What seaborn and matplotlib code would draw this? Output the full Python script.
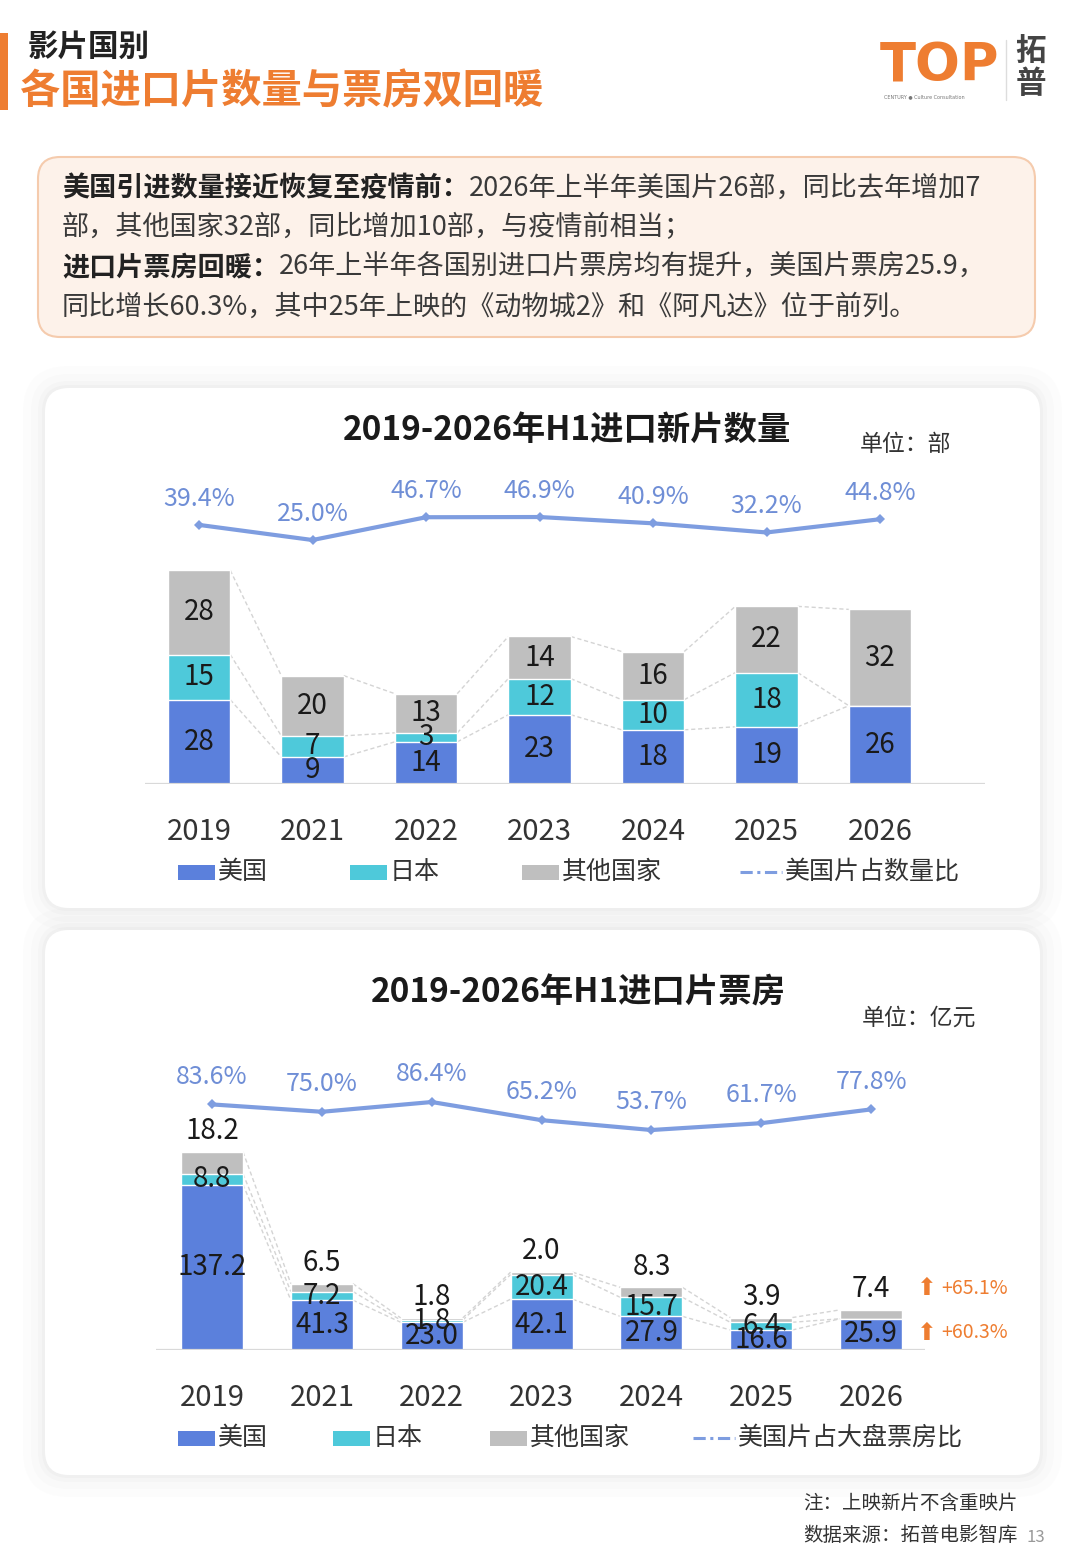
import numpy as np
import pandas as pd
import matplotlib
matplotlib.use("Agg")
import matplotlib.pyplot as plt
import seaborn as sns
from matplotlib.patches import FancyBboxPatch, Rectangle
from matplotlib.lines import Line2D

# ---- data ----
years = ["2019", "2021", "2022", "2023", "2024", "2025", "2026"]

# 进口新片数量（部）
cnt_us = [28, 9, 14, 23, 18, 19, 26]
cnt_jp = [15, 7, 3, 12, 10, 18, 0]
cnt_other = [28, 20, 13, 14, 16, 22, 32]
cnt_us_share = [39.4, 25.0, 46.7, 46.9, 40.9, 32.2, 44.8]

# 进口片票房（亿元）
box_us = [137.2, 41.3, 23.0, 42.1, 27.9, 16.6, 25.9]
box_jp = [8.8, 7.2, 1.8, 20.4, 15.7, 6.4, 0]
box_other = [18.2, 6.5, 1.8, 2.0, 8.3, 3.9, 7.4]
box_us_share = [83.6, 75.0, 86.4, 65.2, 53.7, 61.7, 77.8]

growth = ["+65.1%", "+60.3%"]

C_US = "#5b80dc"
C_JP = "#4ec9da"
C_OTHER = "#bfbfbf"
C_LINE = "#7e9de0"
C_PCT = "#6f8ed6"
C_ORANGE = "#ee7d31"

sns.set_theme(style="white")
plt.rcParams["font.family"] = ["Noto Sans CJK SC", "DejaVu Sans"]
plt.rcParams["axes.unicode_minus"] = False

W, H = 1080, 1568
fig = plt.figure(figsize=(W / 100, H / 100), dpi=100)
fig.patch.set_facecolor("white")


def rect(x0, y0, x1, y1):
    # pixel box (top-left origin) -> figure fraction
    return [x0 / W, 1 - y1 / H, (x1 - x0) / W, (y1 - y0) / H]


bg = fig.add_axes([0, 0, 1, 1], zorder=0)
bg.set_xlim(0, W)
bg.set_ylim(H, 0)
bg.axis("off")

# ---- header ----
bg.add_patch(Rectangle((0, 33), 8, 77, fc=C_ORANGE, ec="none"))
bg.text(28, 47, "影片国别", fontsize=22, fontweight="bold", color="#222", va="center")
bg.text(20, 92, "各国进口片数量与票房双回暖", fontsize=29, fontweight="bold",
        color=C_ORANGE, va="center")

# logo
bg.text(880, 66, "TOP", fontsize=38, fontweight="heavy", color=C_ORANGE,
        va="center", family=["DejaVu Sans"])
bg.text(884, 97, "CENTURY ● Culture Consultation", fontsize=3.5, color="#777", va="center",
        family=["DejaVu Sans"])
bg.plot([1006, 1006], [40, 100], color="#dddddd", lw=1)
bg.text(1031, 52, "拓", fontsize=22, fontweight="bold", color="#444", ha="center", va="center")
bg.text(1031, 84, "普", fontsize=22, fontweight="bold", color="#444", ha="center", va="center")

# ---- summary box ----
bg.add_patch(FancyBboxPatch((38, 157), 997, 180, boxstyle="round,pad=0,rounding_size=22",
                            fc="#fdf2ea", ec="#f5cbad", lw=1.5))
renderer = fig.canvas.get_renderer()
lines = [
    ("美国引进数量接近恢复至疫情前：", "2026年上半年美国片26部，同比去年增加7"),
    ("", "部，其他国家32部，同比增加10部，与疫情前相当；"),
    ("进口片票房回暖：", "26年上半年各国别进口片票房均有提升，美国片票房25.9，"),
    ("", "同比增长60.3%，其中25年上映的《动物城2》和《阿凡达》位于前列。"),
]
for k, (b, r) in enumerate(lines):
    y = 188 + k * 39.7
    x = 62
    if b:
        t = bg.text(x, y, b, fontsize=19.5, fontweight="bold", color="#222", va="center")
        x = t.get_window_extent(renderer).x1
    bg.text(x, y, r, fontsize=19.5, color="#3a3a3a", va="center")


# ---- cards ----
def card(x0, y0, x1, y1):
    for pad, a in [(22, 0.035), (14, 0.045), (7, 0.06), (3, 0.08)]:
        bg.add_patch(FancyBboxPatch((x0, y0), x1 - x0, y1 - y0,
                                    boxstyle=f"round,pad={pad},rounding_size={24 + pad}",
                                    fc="#b8b8b8", ec="none", alpha=a))
    bg.add_patch(FancyBboxPatch((x0, y0), x1 - x0, y1 - y0,
                                boxstyle="round,pad=0,rounding_size=24", fc="white", ec="none"))


card(45, 388, 1040, 908)
card(45, 930, 1040, 1475)


def stacked(ax, us, jp, other, width):
    df = pd.DataFrame({"year": years, "us": us, "jp": jp, "other": other})
    df["t1"] = df["us"]
    df["t2"] = df["us"] + df["jp"]
    df["t3"] = df["t2"] + df["other"]
    for col, c in [("t3", C_OTHER), ("t2", C_JP), ("t1", C_US)]:
        sns.barplot(data=df, x="year", y=col, order=years, color=c, width=width,
                    saturation=1, errorbar=None, ax=ax, zorder=2)
    # series lines between bars
    for col in ["t1", "t2", "t3"]:
        v = df[col].values
        for i in range(len(years) - 1):
            ax.plot([i + width / 2, i + 1 - width / 2], [v[i], v[i + 1]],
                    color="#d4d4d4", lw=1, ls=(0, (3, 2)), zorder=1)
    ax.axhline(0, color="#d9d9d9", lw=1.6, zorder=3)
    ax.set_xlabel("")
    ax.set_ylabel("")
    ax.set_yticks([])
    sns.despine(ax=ax, left=True, bottom=True)
    ax.set_facecolor("none")
    ax.tick_params(axis="x", length=0, pad=24, labelsize=21, labelcolor="#333")
    return df


def share_line(ax, share, xlim, ylim, off):
    sns.lineplot(x=np.arange(len(years)), y=share, ax=ax, color=C_LINE, lw=3,
                 marker="D", markersize=5, markeredgewidth=0)
    for i, v in enumerate(share):
        ax.annotate(f"{v:.1f}%", (i, v), xytext=(0, off), textcoords="offset points",
                    ha="center", va="center", fontsize=18, color=C_PCT)
    ax.set_xlim(*xlim)
    ax.set_ylim(*ylim)
    ax.axis("off")


def legend(y, xs, labels, line_label, xl):
    for x, c, lab in zip(xs, [C_US, C_JP, C_OTHER], labels):
        bg.add_patch(Rectangle((x, y - 7), 37, 15, fc=c, ec="none"))
        bg.text(x + 40, y, lab, fontsize=18, color="#333", va="center")
    bg.add_line(Line2D([xl, xl + 42], [y, y], color=C_LINE, lw=2.2, ls=(0, (4, 1.5, 1, 1.5))))
    bg.text(xl + 45, y, line_label, fontsize=18, color="#333", va="center")


# ---- chart 1: 数量 ----
bg.text(567, 430, "2019-2026年H1进口新片数量", fontsize=24, fontweight="bold",
        color="#1a1a1a", ha="center", va="center")
bg.text(860, 444, "单位：部", fontsize=16.5, color="#333", va="center")

xlim1 = (-0.476, 6.925)
ax1 = fig.add_axes(rect(145, 470, 985, 784), zorder=2)
stacked(ax1, cnt_us, cnt_jp, cnt_other, 0.55)
ax1.set_xlim(*xlim1)
ax1.set_ylim(0, 104.3)
for i in range(len(years)):
    base = 0
    for v in [cnt_us[i], cnt_jp[i], cnt_other[i]]:
        if v > 0:
            ax1.text(i, base + v / 2, str(v), ha="center", va="center",
                     fontsize=20, color="#1a1a1a", zorder=4)
        base += v

axl1 = fig.add_axes(rect(145, 470, 985, 600), zorder=3)
share_line(axl1, cnt_us_share, xlim1, (-32.1, 91.67), 19)

legend(872, [178, 350, 522], ["美国", "日本", "其他国家"], "美国片占数量比", 740)

# ---- chart 2: 票房 ----
bg.text(578, 993, "2019-2026年H1进口片票房", fontsize=24, fontweight="bold",
        color="#1a1a1a", ha="center", va="center")
bg.text(862, 1018, "单位：亿元", fontsize=16.5, color="#333", va="center")

xlim2 = (-0.51, 6.49)
ax2 = fig.add_axes(rect(156, 1060, 925, 1350), zorder=2)
stacked(ax2, box_us, box_jp, box_other, 0.565)
ax2.set_xlim(*xlim2)
ax2.set_ylim(0, 240.5)
for i in range(len(years)):
    u, j, o = box_us[i], box_jp[i], box_other[i]
    ax2.text(i, u / 2, f"{u:.1f}", ha="center", va="center", fontsize=20,
             color="#1a1a1a", zorder=4)
    if j > 0:
        ax2.text(i, u + j / 2, f"{j:.1f}", ha="center", va="center", fontsize=20,
                 color="#1a1a1a", zorder=4)
    ax2.annotate(f"{o:.1f}", (i, u + j + o), xytext=(0, 15), textcoords="offset points",
                 ha="center", va="center", fontsize=20, color="#1a1a1a", zorder=4)

axl2 = fig.add_axes(rect(156, 1060, 925, 1180), zorder=3)
share_line(axl2, box_us_share, xlim2, (-4.7, 135.5), 20)

for y, g in zip([1288, 1333], growth):
    bg.text(927, y, "⬆", fontsize=17, color=C_ORANGE, ha="center", va="center",
            family=["DejaVu Sans"])
    bg.text(941, y, g, fontsize=14, color=C_ORANGE, va="center")

legend(1438, [178, 333, 490], ["美国", "日本", "其他国家"], "美国片占大盘票房比", 693)

# ---- footer ----
bg.text(803, 1503, "注：上映新片不含重映片", fontsize=14, color="#333", va="center",
        fontweight="medium")
bg.text(803, 1535, "数据来源：拓普电影智库", fontsize=14, color="#333", va="center",
        fontweight="medium")
bg.text(1026, 1537, "13", fontsize=12, color="#999", va="center")

fig.savefig("out.png", dpi=100)
